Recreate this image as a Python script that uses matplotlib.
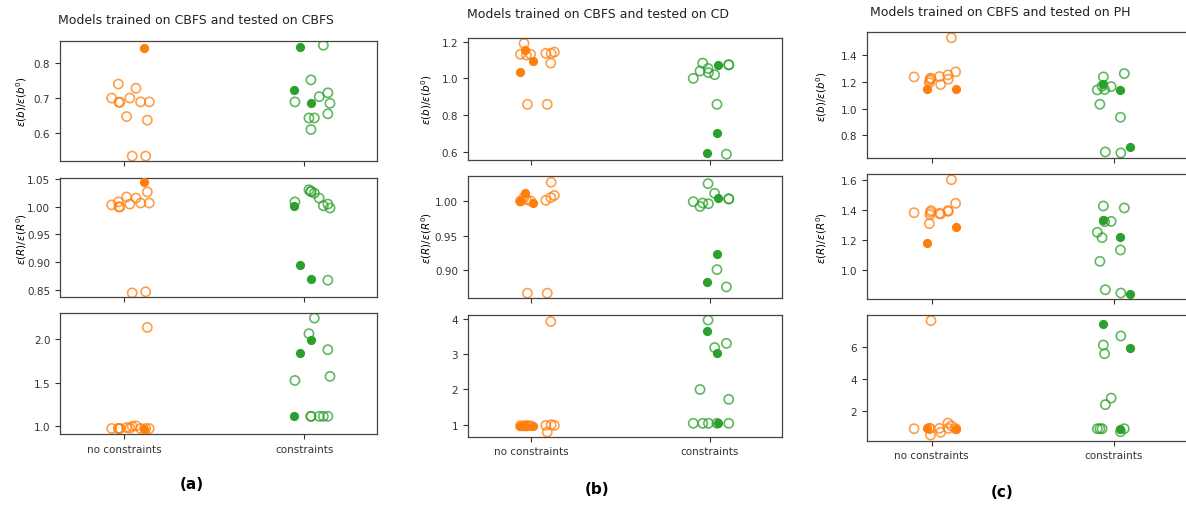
import matplotlib.pyplot as plt
import numpy as np

categories = ['no constraints', 'constraints']
titles = ['Models trained on CBFS and tested on CBFS',
          'Models trained on CBFS and tested on CD',
          'Models trained on CBFS and tested on PH']
panel_labels = ['(a)', '(b)', '(c)']
ylabels = [r'$\epsilon(b)/\epsilon(b^0)$', r'$\epsilon(R)/\epsilon(R^0)$', '']

# ---- panel (a): CBFS -> CBFS
a_nc_jitter = [-0.070, -0.033, -0.030, -0.024, 0.013, 0.031, 0.065, 0.091, 0.139, 0.128, 0.044, 0.119, 0.109]
a_nc_filled = [0, 0, 0, 0, 0, 0, 0, 0, 0, 0, 0, 0, 1]
a_nc_b = [0.700, 0.740, 0.688, 0.688, 0.647, 0.700, 0.728, 0.689, 0.689, 0.637, 0.534, 0.534, 0.843]
a_nc_R = [1.0036, 1.009, 1.000, 1.000, 1.018, 1.005, 1.016, 1.007, 1.007, 1.027, 0.844, 0.846, 1.0447]
a_nc_3 = [0.975, 0.975, 0.975, 0.975, 0.985, 0.98, 1.005, 0.975, 0.975, 2.138, 1.0, 0.975, 0.975]

a_c_jitter = [-0.059, -0.022, 0.039, -0.052, 0.026, 0.037, 0.037, 0.056, 0.083, 0.106, 0.131, 0.131, 0.143]
a_c_filled = [1, 1, 1, 0, 0, 0, 0, 0, 0, 0, 0, 0, 0]
a_c_b = [0.723, 0.847, 0.685, 0.689, 0.643, 0.752, 0.610, 0.643, 0.704, 0.851, 0.715, 0.655, 0.685]
a_c_R = [1.002, 0.894, 0.870, 1.009, 1.031, 1.028, 1.028, 1.025, 1.016, 1.002, 1.005, 0.867, 0.998]
a_c_3 = [1.115, 1.843, 1.989, 1.527, 2.065, 1.115, 1.115, 2.245, 1.115, 1.115, 1.881, 1.115, 1.575]

# ---- panel (b): CBFS -> CD
b_nc_jitter = [-0.066, -0.033, 0.007, -0.061, -0.041, -0.028, -0.004, -0.022, 0.081, 0.111, 0.129, 0.109, 0.089]
b_nc_filled = [1, 1, 1, 0, 0, 0, 0, 0, 0, 0, 0, 0, 0]
b_nc_b = [1.036, 1.156, 1.094, 1.131, 1.190, 1.127, 1.131, 0.859, 1.136, 1.136, 1.143, 1.083, 0.859]
b_nc_R = [1.000, 1.011, 0.997, 1.000, 1.005, 1.002, 1.000, 0.867, 1.001, 1.027, 1.008, 1.005, 0.867]
b_nc_3 = [0.97, 0.97, 0.97, 0.97, 0.97, 0.97, 0.97, 0.97, 0.98, 1.0, 0.98, 3.93, 0.79]

b_c_jitter = [-0.092, -0.039, -0.054, -0.009, -0.007, 0.028, 0.044, 0.107, 0.107, 0.041, 0.041, -0.013, 0.094]
b_c_filled = [0, 0, 0, 0, 0, 0, 1, 0, 0, 0, 1, 1, 0]
b_c_b = [1.000, 1.083, 1.040, 1.054, 1.031, 1.020, 1.073, 1.074, 1.074, 0.859, 0.704, 0.597, 0.588]
b_c_R = [0.999, 0.997, 0.992, 1.025, 0.996, 1.011, 1.005, 1.003, 1.003, 0.901, 0.924, 0.883, 0.876]
b_c_3 = [1.04, 1.04, 2.00, 3.97, 1.04, 3.19, 1.04, 1.72, 1.04, 1.04, 3.03, 3.65, 3.31]

# ---- panel (c): CBFS -> PH
c_nc_jitter = [-0.097, -0.004, -0.007, -0.013, 0.042, 0.049, 0.089, 0.091, 0.131, 0.108, -0.026, 0.131, -0.010]
c_nc_filled = [0, 0, 0, 0, 0, 0, 0, 0, 0, 0, 1, 1, 0]
c_nc_b = [1.236, 1.222, 1.227, 1.192, 1.239, 1.179, 1.251, 1.219, 1.274, 1.528, 1.147, 1.147, 1.210]
c_nc_R = [1.381, 1.395, 1.384, 1.308, 1.377, 1.373, 1.395, 1.390, 1.444, 1.602, 1.176, 1.288, 1.368]
c_nc_3 = [0.896, 7.65, 0.50, 0.917, 0.917, 0.667, 1.25, 0.917, 0.90, 1.08, 0.917, 0.896, 0.917]

c_c_jitter = [-0.091, -0.077, -0.058, -0.062, -0.065, -0.051, -0.015, 0.033, 0.057, 0.036, -0.047, 0.038, 0.088]
c_c_filled = [0, 0, 0, 1, 0, 0, 0, 1, 0, 0, 0, 0, 1]
c_c_b = [1.139, 1.032, 1.236, 1.182, 1.167, 1.142, 1.164, 1.139, 1.261, 0.935, 0.676, 0.669, 0.711]
c_c_R = [1.250, 1.056, 1.426, 1.330, 1.214, 1.321, 1.323, 1.221, 1.413, 1.132, 0.866, 0.844, 0.837]
c_c_3 = [0.896, 0.896, 6.125, 7.44, 0.896, 5.58, 2.81, 0.896, 0.896, 0.71, 2.40, 6.69, 5.92]

ORANGE = '#ff7f0e'
GREEN = '#2ca02c'
W, H = 1186, 506


def strip(ax, pos, jitter, values, filled, color):
    x = pos + np.array(jitter)
    v = np.array(values)
    f = np.array(filled, dtype=bool)
    ax.scatter(x[~f], v[~f], s=44, facecolors='none', edgecolors=color,
               linewidths=1.2, alpha=0.75, zorder=2)
    ax.scatter(x[f], v[f], s=44, color=color, linewidths=0, zorder=3)


fig = plt.figure(figsize=(W / 100, H / 100), dpi=100)

# axes boxes in pixels: left, right, rows of (top, bottom)
boxes = [
    (60, 377, [(41.7, 162), (179, 298.3), (314, 435)]),
    (467.7, 781.7, [(39.3, 160.7), (177.3, 299.3), (315.7, 437.7)]),
    (866.7, 1187.5, [(33.3, 159), (175, 300), (315.7, 441.7)]),
]
ylims = [
    [(0.52, 0.864), (0.836, 1.0524), (0.912, 2.303)],
    [(0.558, 1.218), (0.8596, 1.0356), (0.66, 4.123)],
    [(0.631, 1.569), (0.804, 1.640), (0.146, 8.02)],
]
yticks = [
    [[0.6, 0.7, 0.8], [0.85, 0.90, 0.95, 1.00, 1.05], [1.0, 1.5, 2.0]],
    [[0.6, 0.8, 1.0, 1.2], [0.90, 0.95, 1.00], [1, 2, 3, 4]],
    [[0.8, 1.0, 1.2, 1.4], [1.0, 1.2, 1.4, 1.6], [2, 4, 6]],
]
label_x = [-0.099, -0.107, -0.117]

panels = [
    ((a_nc_jitter, a_nc_filled, [a_nc_b, a_nc_R, a_nc_3]),
     (a_c_jitter, a_c_filled, [a_c_b, a_c_R, a_c_3])),
    ((b_nc_jitter, b_nc_filled, [b_nc_b, b_nc_R, b_nc_3]),
     (b_c_jitter, b_c_filled, [b_c_b, b_c_R, b_c_3])),
    ((c_nc_jitter, c_nc_filled, [c_nc_b, c_nc_R, c_nc_3]),
     (c_c_jitter, c_c_filled, [c_c_b, c_c_R, c_c_3])),
]

for p, ((nc_j, nc_f, nc_vals), (c_j, c_f, c_vals)) in enumerate(panels):
    left, right, rows = boxes[p]
    for r, (top, bottom) in enumerate(rows):
        ax = fig.add_axes([left / W, 1 - bottom / H, (right - left) / W, (bottom - top) / H])
        strip(ax, 0, nc_j, nc_vals[r], nc_f, ORANGE)
        strip(ax, 1, c_j, c_vals[r], c_f, GREEN)
        ax.set_xlim(-0.357, 1.404)
        ax.set_ylim(*ylims[p][r])
        ax.set_yticks(yticks[p][r])
        ax.set_xticks([0, 1])
        if r == 2:
            ax.set_xticklabels(categories)
        else:
            ax.set_xticklabels([])
        ax.tick_params(labelsize=7.5, length=3.5, width=0.8, colors='#333333')
        for s in ax.spines.values():
            s.set_color('#444444')
            s.set_linewidth(0.9)
        if ylabels[r]:
            ax.set_ylabel(ylabels[r], fontsize=7.5)
            ax.yaxis.set_label_coords(label_x[p], 0.5)

title_pos = [(196, 20), (598, 15), (1000, 13)]
label_pos = [(192, 485), (597, 490), (1002, 493)]
for p in range(3):
    fig.text(title_pos[p][0] / W, 1 - title_pos[p][1] / H, titles[p],
             fontsize=9, ha='center', va='center', color='#222222')
    fig.text(label_pos[p][0] / W, 1 - label_pos[p][1] / H, panel_labels[p],
             fontsize=11, fontweight='bold', ha='center', va='center')

fig.savefig('out.png', dpi=100)
